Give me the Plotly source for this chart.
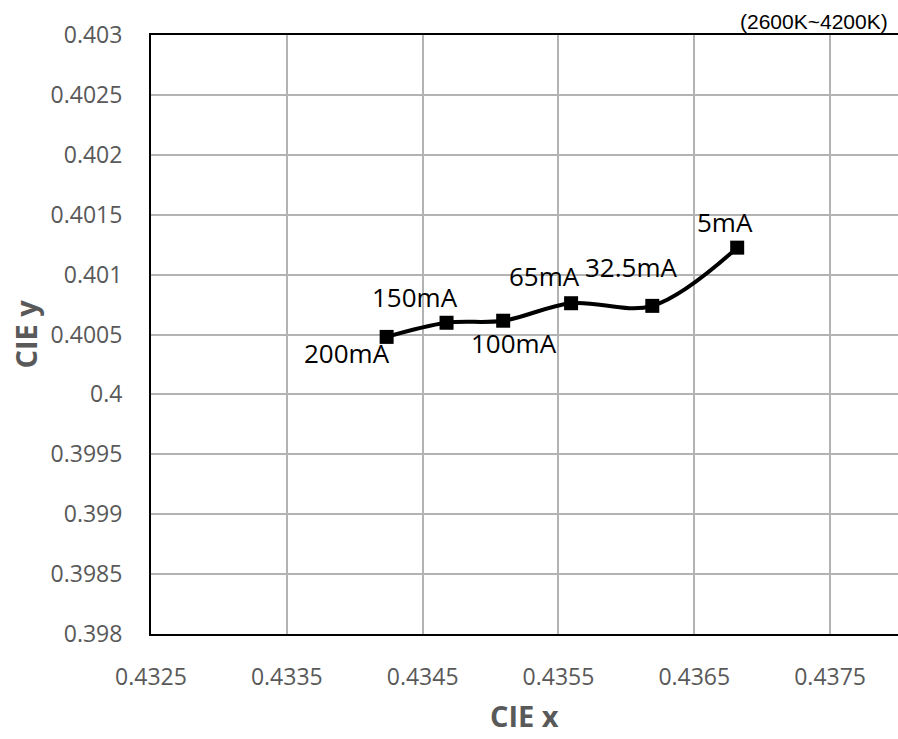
import plotly.graph_objects as go

# ---- data ----
currents = ["200mA", "150mA", "100mA", "65mA", "32.5mA", "5mA"]
cie_x = [0.434235, 0.434676, 0.435093, 0.435593, 0.436191, 0.436816]
cie_y = [0.400480, 0.400598, 0.400615, 0.400761, 0.400739, 0.401225]

x_ticks = [0.4325, 0.4335, 0.4345, 0.4355, 0.4365, 0.4375]
x_tick_labels = ["0.4325", "0.4335", "0.4345", "0.4355", "0.4365", "0.4375"]
y_ticks = [0.398, 0.3985, 0.399, 0.3995, 0.4, 0.4005, 0.401, 0.4015, 0.402, 0.4025, 0.403]
y_tick_labels = ["0.398", "0.3985", "0.399", "0.3995", "0.4", "0.4005", "0.401",
                 "0.4015", "0.402", "0.4025", "0.403"]

x_title = "CIE x"
y_title = "CIE y"
note = "(2600K~4200K)"

# ---- style (label pixel offsets from each marker) ----
label_shift = [(-40, -16), (-32, 26), (11, -22), (-27, 27), (-21, 39), (-12, 26)]

FONT = "Open Sans"
GREY = "#595959"

fig = go.Figure()
fig.add_trace(go.Scatter(
    x=cie_x, y=cie_y, mode="lines+markers",
    line=dict(color="black", width=4, shape="spline", smoothing=1),
    marker=dict(symbol="square", size=14, color="black"),
    showlegend=False, hoverinfo="skip",
))

annotations = []
for xv, yv, lab, (dx, dy) in zip(cie_x, cie_y, currents, label_shift):
    annotations.append(dict(
        x=xv, y=yv, xref="x", yref="y", text=lab, showarrow=False,
        xshift=dx, yshift=dy, xanchor="center", yanchor="middle",
        font=dict(family=FONT, size=26, color="black"),
    ))

annotations.append(dict(
    x=(890 - 151) / 747, y=(634 - 21) / 599, xref="paper", yref="paper",
    text=note, showarrow=False, xanchor="right", yanchor="middle",
    font=dict(family="Liberation Sans", size=21, color="black"),
))
annotations.append(dict(
    x=0.5, y=-(737 - 634) / 599, xref="paper", yref="paper",
    text="<b>" + x_title + "</b>", showarrow=False, xanchor="center", yanchor="bottom",
    font=dict(family=FONT, size=29, color=GREY),
))
annotations.append(dict(
    x=(25 - 151) / 747, y=0.5, xref="paper", yref="paper",
    text="<b>" + y_title + "</b>", showarrow=False, xanchor="center", yanchor="middle",
    textangle=-90,
    font=dict(family=FONT, size=29, color=GREY),
))

fig.update_layout(
    width=898, height=739,
    margin=dict(l=151, r=0, t=35, b=105),
    paper_bgcolor="white", plot_bgcolor="white",
    annotations=annotations,
    xaxis=dict(
        range=[0.4325, 0.438], tickvals=x_ticks, ticktext=x_tick_labels,
        showgrid=True, gridcolor="#b3b3b3", gridwidth=1.5,
        showline=True, linecolor="black", linewidth=2, mirror=True,
        ticks="outside", ticklen=21, tickcolor="rgba(0,0,0,0)",
        tickfont=dict(family=FONT, size=23, color=GREY),
        zeroline=False,
    ),
    yaxis=dict(
        range=[0.398, 0.403], tickvals=y_ticks, ticktext=y_tick_labels,
        showgrid=True, gridcolor="#b3b3b3", gridwidth=1.5,
        showline=True, linecolor="black", linewidth=2,
        ticks="outside", ticklen=22, tickcolor="rgba(0,0,0,0)",
        tickfont=dict(family=FONT, size=23, color=GREY),
        zeroline=False,
    ),
)

fig.write_html(
    "out.html",
    config={"displayModeBar": False},
    post_script="document.body.style.margin='0px';document.body.style.overflow='hidden';",
)
